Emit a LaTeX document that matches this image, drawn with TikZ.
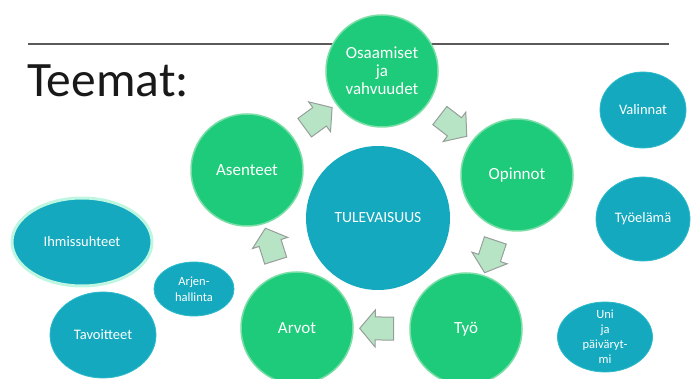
\documentclass[tikz,border=0pt]{standalone}
\usepackage{fontspec}
\setmainfont{Carlito}
\usetikzlibrary{shapes.geometric,shapes.arrows}

\definecolor{themegreen}{RGB}{29,203,122}
\definecolor{greenrim}{RGB}{120,222,165}
\definecolor{themeteal}{RGB}{20,169,190}
\definecolor{tealrim}{RGB}{45,186,202}
\definecolor{glow}{RGB}{190,246,226}
\definecolor{arrowfill}{RGB}{184,228,198}
\definecolor{arrowedge}{RGB}{150,158,154}
\definecolor{rulegray}{RGB}{90,90,90}

\tikzset{
	theme/.style={circle, fill=themegreen, draw=greenrim, line width=1.5pt, minimum size=112pt, inner sep=0pt, text=white, align=center, font=\fontsize{17}{18}\selectfont},
	core/.style={circle, fill=themeteal, minimum size=144pt, inner sep=0pt, text=white, font=\fontsize{15.5}{16}\selectfont},
	bubble/.style={ellipse, fill=themeteal, draw=tealrim, line width=0.8pt, inner sep=0pt, text=white, align=center, font=\fontsize{14.5}{16}\selectfont},
	flow/.style={single arrow, fill=arrowfill, draw=arrowedge, line width=1pt, minimum height=34pt, inner xsep=0pt, inner ysep=11pt, single arrow head extend=7pt, single arrow tip angle=100, sloped, allow upside down}
}

\begin{document}
\begin{tikzpicture}[x=1pt,y=-1pt]
		\useasboundingbox (0,0) rectangle (696,379);
		% title
		\draw [rulegray, line width=1.5pt] (28,44) -- (669,44);
		\node (title) [anchor=base west, inner sep=0pt, text=black!90, font=\fontsize{49.5}{50}\selectfont] at (27,97) {Teemat:};
		
		% cycle round the core
		\node (core) [core] at (378,218) {TULEVAISUUS};
		\node (osaamiset) [theme] at (382,71) {Osaamiset\\ja\\vahvuudet};
		\node (opinnot) [theme] at (517,175) {Opinnot};
		\node (tyo) [theme] at (466,329) {Työ};
		\node (arvot) [theme] at (297,328) {Arvot};
		\node (asenteet) [theme] at (247,170) {Asenteet};
		
		\foreach \a/\b in {asenteet/osaamiset, osaamiset/opinnot, opinnot/tyo, tyo/arvot, arvot/asenteet}
		\path (\a) -- node[flow] {} (\b);
		
		% side topics, right
		\node (valinnat) [bubble, minimum width=86pt, minimum height=76pt] at (643,110) {Valinnat};
		\node (tyoelama) [bubble, minimum width=94pt, minimum height=84pt] at (643,219) {Työelämä};
		\node (uni) [bubble, minimum width=95pt, minimum height=70pt, inner sep=-8pt, font=\fontsize{12.5}{15}\selectfont] at (605,337) {Uni\\ja\\päiväryt-\\mi};
		
		% side topics, left
		\node (ihmissuhteet) [bubble, draw=glow, line width=3pt, minimum width=140pt, minimum height=88pt] at (82,242) {Ihmissuhteet};
		\node (arjen) [bubble, minimum width=80pt, minimum height=54pt, font=\fontsize{12.5}{16}\selectfont] at (194,289) {Arjen-\\hallinta};
		\node (tavoitteet) [bubble, minimum width=106pt, minimum height=86pt] at (103,335) {Tavoitteet};
\end{tikzpicture}
\end{document}
